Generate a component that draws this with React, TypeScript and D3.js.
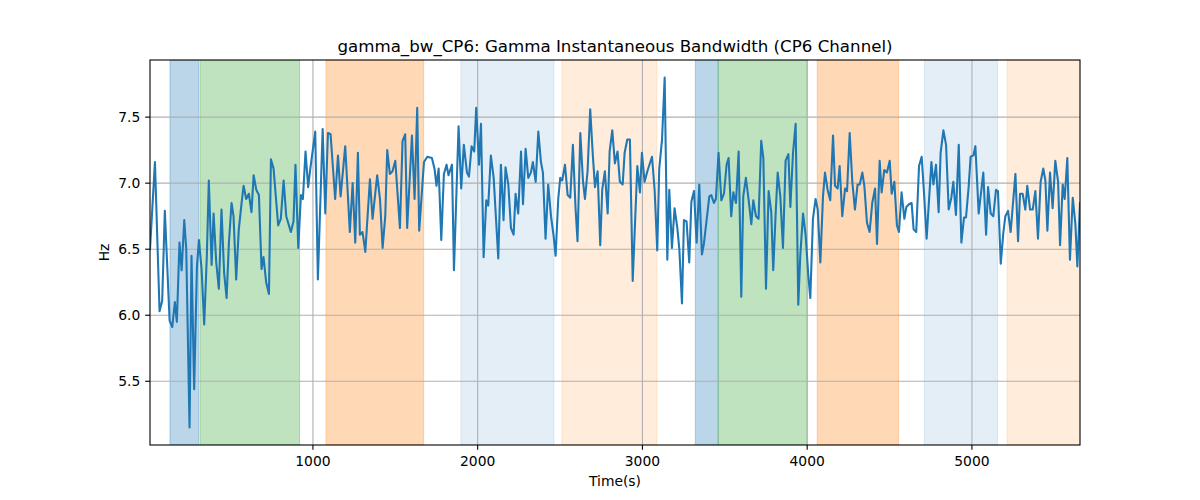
import * as d3 from "d3";

const W = 1200;
const H = 500;
const M = { left: 150, right: 120, top: 60, bottom: 55 };
const FONT = "DejaVu Sans, sans-serif";

const TITLE = "gamma_bw_CP6: Gamma Instantaneous Bandwidth (CP6 Channel)";
const X_LABEL = "Time(s)";
const Y_LABEL = "Hz";

const xTicks = [1000, 2000, 3000, 4000, 5000];
const yTicks = [5.5, 6.0, 6.5, 7.0, 7.5];

// shaded segments: [start, end, colour, alpha]
const spans: [number, number, string, number][] = [
	[132, 306, "#1f77b4", 0.3],
	[314, 919, "#2ca02c", 0.3],
	[1079, 1672, "#ff7f0e", 0.3],
	[1898, 2463, "#1f77b4", 0.12],
	[2511, 3088, "#ff7f0e", 0.15],
	[3321, 3460, "#1f77b4", 0.3],
	[3460, 4000, "#2ca02c", 0.3],
	[4061, 4555, "#ff7f0e", 0.3],
	[4711, 5156, "#1f77b4", 0.12],
	[5213, 5660, "#ff7f0e", 0.15],
];

// [time (s), bandwidth (Hz)]
const samples: [number, number][] = [
	[11, 6.5], [41, 7.16], [69, 6.03], [85, 6.11], [101, 6.79], [130, 5.96], [146, 5.91],
	[162, 6.1], [174, 5.95], [190, 6.55], [203, 6.34], [219, 6.72], [231, 6.5], [251, 5.15],
	[263, 6.45], [279, 5.44], [296, 6.37], [308, 6.57], [324, 6.35], [340, 5.93], [356, 6.45],
	[368, 7.02], [385, 6.38], [397, 6.77], [413, 6.4], [429, 6.2], [445, 6.8], [461, 6.32],
	[476, 6.13], [490, 6.55], [506, 6.85], [518, 6.75], [534, 6.27], [550, 6.65], [567, 6.85],
	[579, 6.98], [595, 6.88], [611, 6.92], [627, 6.78], [640, 7.06], [656, 6.95], [672, 6.91],
	[688, 6.35], [700, 6.44], [716, 6.25], [733, 6.16], [745, 7.18], [761, 7.11], [789, 6.68],
	[805, 6.73], [822, 7.02], [838, 6.75], [866, 6.63], [882, 6.71], [894, 7.14], [911, 6.51],
	[927, 6.91], [939, 6.88], [955, 7.24], [971, 6.97], [982, 7.09], [1014, 7.39], [1030, 6.27],
	[1059, 7.41], [1075, 6.77], [1091, 7.38], [1107, 7.37], [1135, 6.88], [1152, 7.21],
	[1168, 6.9], [1196, 7.28], [1224, 6.63], [1241, 7.0], [1257, 6.55], [1273, 7.23],
	[1285, 6.61], [1301, 6.63], [1318, 6.48], [1346, 7.03], [1362, 6.73], [1390, 7.06],
	[1407, 6.88], [1423, 6.51], [1439, 6.75], [1451, 7.25], [1467, 7.07], [1483, 7.09],
	[1500, 7.17], [1528, 6.66], [1544, 7.32], [1560, 7.37], [1572, 6.66], [1601, 7.36],
	[1617, 6.88], [1633, 7.57], [1645, 6.64], [1674, 7.16], [1694, 7.2], [1722, 7.19],
	[1738, 7.11], [1750, 6.98], [1763, 7.11], [1779, 6.57], [1795, 7.07], [1811, 7.14],
	[1823, 7.06], [1844, 7.14], [1856, 6.34], [1884, 7.43], [1900, 6.96], [1916, 7.29],
	[1935, 7.08], [1947, 7.05], [1963, 7.28], [1979, 7.24], [1991, 7.57], [2008, 7.14],
	[2020, 7.45], [2036, 6.44], [2052, 6.87], [2064, 6.83], [2080, 7.21], [2097, 7.04],
	[2125, 6.43], [2141, 7.14], [2157, 6.72], [2169, 7.12], [2186, 6.99], [2202, 6.66],
	[2218, 6.61], [2230, 6.92], [2246, 6.77], [2263, 7.24], [2275, 6.84], [2291, 7.26],
	[2307, 7.04], [2323, 7.08], [2335, 7.16], [2352, 7.01], [2368, 7.39], [2384, 7.16],
	[2396, 7.08], [2412, 6.58], [2428, 6.99], [2445, 6.75], [2461, 6.6], [2473, 6.45],
	[2489, 6.88], [2501, 7.04], [2513, 7.02], [2530, 7.14], [2546, 6.91], [2562, 6.89],
	[2578, 7.29], [2594, 6.81], [2606, 6.56], [2623, 7.38], [2639, 7.02], [2651, 6.88],
	[2667, 7.09], [2683, 7.56], [2699, 7.21], [2712, 6.97], [2728, 7.09], [2744, 6.53],
	[2756, 6.95], [2772, 7.09], [2789, 6.77], [2801, 7.24], [2817, 7.4], [2833, 7.15],
	[2849, 7.24], [2863, 7.01], [2880, 6.99], [2892, 7.23], [2908, 7.33], [2924, 7.33],
	[2941, 6.26], [2969, 7.13], [2985, 6.93], [2997, 7.23], [3013, 7.01], [3030, 7.09],
	[3058, 7.2], [3074, 6.95], [3090, 6.49], [3102, 7.11], [3119, 7.33], [3135, 7.8],
	[3151, 6.42], [3163, 6.95], [3179, 6.51], [3195, 6.81], [3212, 6.66], [3224, 6.5],
	[3240, 6.09], [3252, 6.72], [3268, 6.71], [3284, 6.4], [3297, 6.86], [3313, 6.94],
	[3329, 6.55], [3345, 6.99], [3361, 6.46], [3373, 6.54], [3406, 6.9], [3418, 6.91],
	[3434, 6.85], [3446, 6.88], [3462, 7.23], [3479, 6.87], [3495, 6.92], [3511, 7.14],
	[3523, 7.19], [3539, 6.75], [3552, 6.93], [3568, 6.85], [3584, 7.24], [3600, 6.14],
	[3612, 6.9], [3628, 7.04], [3645, 6.87], [3661, 6.69], [3673, 6.87], [3689, 6.75],
	[3705, 6.73], [3721, 7.32], [3734, 7.19], [3750, 6.2], [3766, 6.94], [3782, 6.78],
	[3794, 6.34], [3809, 6.78], [3821, 7.08], [3837, 6.9], [3853, 6.51], [3869, 7.17],
	[3886, 7.22], [3898, 6.82], [3914, 7.23], [3930, 7.45], [3946, 6.08], [3958, 6.45],
	[3975, 6.77], [3991, 6.6], [4007, 6.3], [4019, 6.13], [4035, 6.73], [4051, 6.88],
	[4064, 6.8], [4080, 6.4], [4096, 6.9], [4108, 7.08], [4124, 6.95], [4140, 6.87],
	[4157, 7.36], [4169, 6.98], [4185, 6.96], [4197, 7.13], [4213, 6.75], [4230, 6.96],
	[4242, 6.94], [4258, 7.38], [4274, 7.01], [4290, 6.8], [4306, 6.99], [4319, 6.99],
	[4335, 7.08], [4347, 6.98], [4363, 6.7], [4379, 6.63], [4395, 6.85], [4412, 6.96],
	[4424, 6.54], [4440, 7.17], [4452, 6.93], [4468, 7.1], [4484, 7.08], [4501, 7.17],
	[4513, 6.92], [4529, 7.01], [4545, 6.68], [4557, 6.63], [4573, 6.93], [4590, 6.73],
	[4602, 6.82], [4618, 6.84], [4634, 6.85], [4646, 6.65], [4662, 6.63], [4679, 7.13],
	[4695, 7.2], [4709, 6.93], [4725, 6.58], [4754, 7.16], [4766, 6.99], [4782, 7.14],
	[4798, 6.78], [4810, 7.23], [4827, 7.4], [4843, 7.29], [4859, 6.8], [4875, 6.89],
	[4887, 7.01], [4903, 6.76], [4920, 7.29], [4936, 6.55], [4952, 6.74], [4964, 6.74],
	[4980, 6.97], [4992, 7.2], [5009, 7.21], [5021, 7.28], [5041, 6.77], [5069, 7.08],
	[5086, 6.61], [5098, 6.97], [5114, 6.77], [5130, 6.75], [5146, 6.95], [5158, 6.94],
	[5175, 6.39], [5191, 6.63], [5203, 6.75], [5219, 6.79], [5235, 6.63], [5264, 7.07],
	[5280, 6.56], [5292, 6.92], [5308, 6.92], [5324, 6.8], [5336, 6.98], [5353, 6.8],
	[5369, 6.8], [5385, 6.94], [5401, 6.58], [5417, 7.01], [5433, 7.11], [5446, 7.02],
	[5458, 6.64], [5474, 7.08], [5490, 6.81], [5506, 7.17], [5523, 7.01], [5535, 6.53],
	[5551, 6.99], [5563, 6.88], [5579, 7.19], [5595, 6.42], [5612, 6.89], [5628, 6.69],
	[5640, 6.37], [5656, 6.85],
];

export default function App() {
	const iw = W - M.left - M.right;
	const ih = H - M.top - M.bottom;

	const x = d3
		.scaleLinear()
		.domain(d3.extent(samples, (d) => d[0]) as [number, number])
		.range([0, iw]);

	const [vmin, vmax] = d3.extent(samples, (d) => d[1]) as [number, number];
	const vpad = (vmax - vmin) * 0.05;
	const y = d3
		.scaleLinear()
		.domain([vmin - vpad, vmax + vpad])
		.range([ih, 0]);

	const line = d3
		.line<[number, number]>()
		.x((d) => x(d[0]))
		.y((d) => y(d[1]));

	const [x0, x1] = x.domain();

	return (
		<svg
			width={W}
			height={H}
			viewBox={`0 0 ${W} ${H}`}
			style={{ position: "absolute", left: 0, top: 0, background: "#fff" }}
			fontFamily={FONT}
		>
			<text x={M.left + iw / 2} y={M.top - 8.3} textAnchor="middle" fontSize={16.67}>
				{TITLE}
			</text>
			<g transform={`translate(${M.left},${M.top})`}>
				<defs>
					<clipPath id="plot">
						<rect width={iw} height={ih} />
					</clipPath>
				</defs>
				<g clipPath="url(#plot)">
					{spans.map(([s, e, c, a], i) => {
						const sx = x(Math.max(s, x0));
						const ex = x(Math.min(e, x1 + 10));
						return (
							<rect
								key={i}
								x={sx}
								y={0}
								width={ex - sx}
								height={ih}
								fill={c}
								fillOpacity={a}
								stroke={c}
								strokeOpacity={a}
								strokeWidth={1}
							/>
						);
					})}
					{xTicks.map((t) => (
						<line key={`gx${t}`} x1={x(t)} x2={x(t)} y1={0} y2={ih} stroke="#b0b0b0" strokeWidth={1.1} />
					))}
					{yTicks.map((t) => (
						<line key={`gy${t}`} x1={0} x2={iw} y1={y(t)} y2={y(t)} stroke="#b0b0b0" strokeWidth={1.1} />
					))}
					<path
						d={line(samples) ?? ""}
						fill="none"
						stroke="#1f77b4"
						strokeWidth={2.08}
						strokeLinejoin="round"
						strokeLinecap="square"
					/>
				</g>
				<rect width={iw} height={ih} fill="none" stroke="#000" strokeWidth={1.1} />
				{xTicks.map((t) => (
					<g key={`tx${t}`} transform={`translate(${x(t)},${ih})`}>
						<line y2={4.86} stroke="#000" strokeWidth={1.1} />
						<text y={20.5} textAnchor="middle" fontSize={13.89}>
							{t}
						</text>
					</g>
				))}
				{yTicks.map((t) => (
					<g key={`ty${t}`} transform={`translate(0,${y(t)})`}>
						<line x2={-4.86} stroke="#000" strokeWidth={1.1} />
						<text x={-9.7} dy="0.36em" textAnchor="end" fontSize={13.89}>
							{d3.format(".1f")(t)}
						</text>
					</g>
				))}
				<text x={iw / 2} y={ih + 41} textAnchor="middle" fontSize={13.89}>
					{X_LABEL}
				</text>
				<text
					transform={`translate(${-41},${ih / 2}) rotate(-90)`}
					textAnchor="middle"
					fontSize={13.89}
				>
					{Y_LABEL}
				</text>
			</g>
		</svg>
	);
}
